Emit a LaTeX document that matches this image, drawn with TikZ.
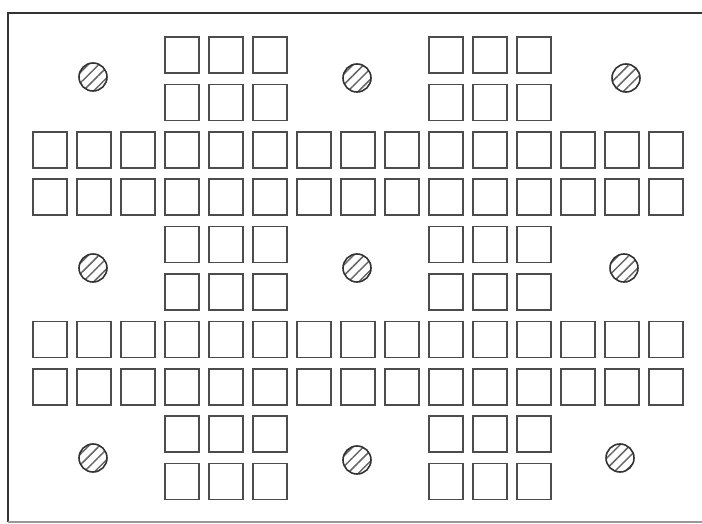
\documentclass[tikz,border=0pt]{standalone}
\usepackage{tikz}
\usetikzlibrary{patterns.meta}

\tikzset{
  cell/.style={draw=black!70,line width=1.7pt,minimum width=34pt,minimum height=36pt,inner sep=0pt},
  hole/.style={circle,draw=black!80,line width=1.6pt,minimum size=28pt,inner sep=0pt,
    pattern={Lines[angle=45,distance=7.5pt,line width=1.5pt]},pattern color=black!60},
  rim/.style={draw=black!80,line width=1.6pt}
}

\begin{document}
\begin{tikzpicture}[x=1pt,y=-1pt]
  \useasboundingbox (0,0) rectangle (702,524);
  % board outline
  \coordinate (tr) at (702,13);
  \coordinate (tl) at (8,13);
  \coordinate (bl) at (8,522);
  \coordinate (br) at (702,522);
  \draw[rim] (tr) -- (tl) -- (bl);
  \draw[rim,black!40] (bl) -- (br);

  % vertical arms (columns 3-5 and 9-11, all rows)
  \foreach \c in {3,4,5,9,10,11}
    \foreach \r in {0,1,4,5,8,9}
      \node[cell] (sq-\r-\c) at (50+44*\c,55+47.4*\r) {};
  % horizontal arms (rows 2-3 and 6-7, all columns)
  \foreach \r in {2,3,6,7}
    \foreach \c in {0,...,14}
      \node[cell] (sq-\r-\c) at (50+44*\c,55+47.4*\r) {};

  % hatched holes
  \node[hole] (hole-1) at (93,77) {};
  \node[hole] (hole-2) at (357,78) {};
  \node[hole] (hole-3) at (626,78) {};
  \node[hole] (hole-4) at (93,268) {};
  \node[hole] (hole-5) at (357,268) {};
  \node[hole] (hole-6) at (624,268) {};
  \node[hole] (hole-7) at (93,458) {};
  \node[hole] (hole-8) at (357,460) {};
  \node[hole] (hole-9) at (620,458) {};
\end{tikzpicture}
\end{document}
